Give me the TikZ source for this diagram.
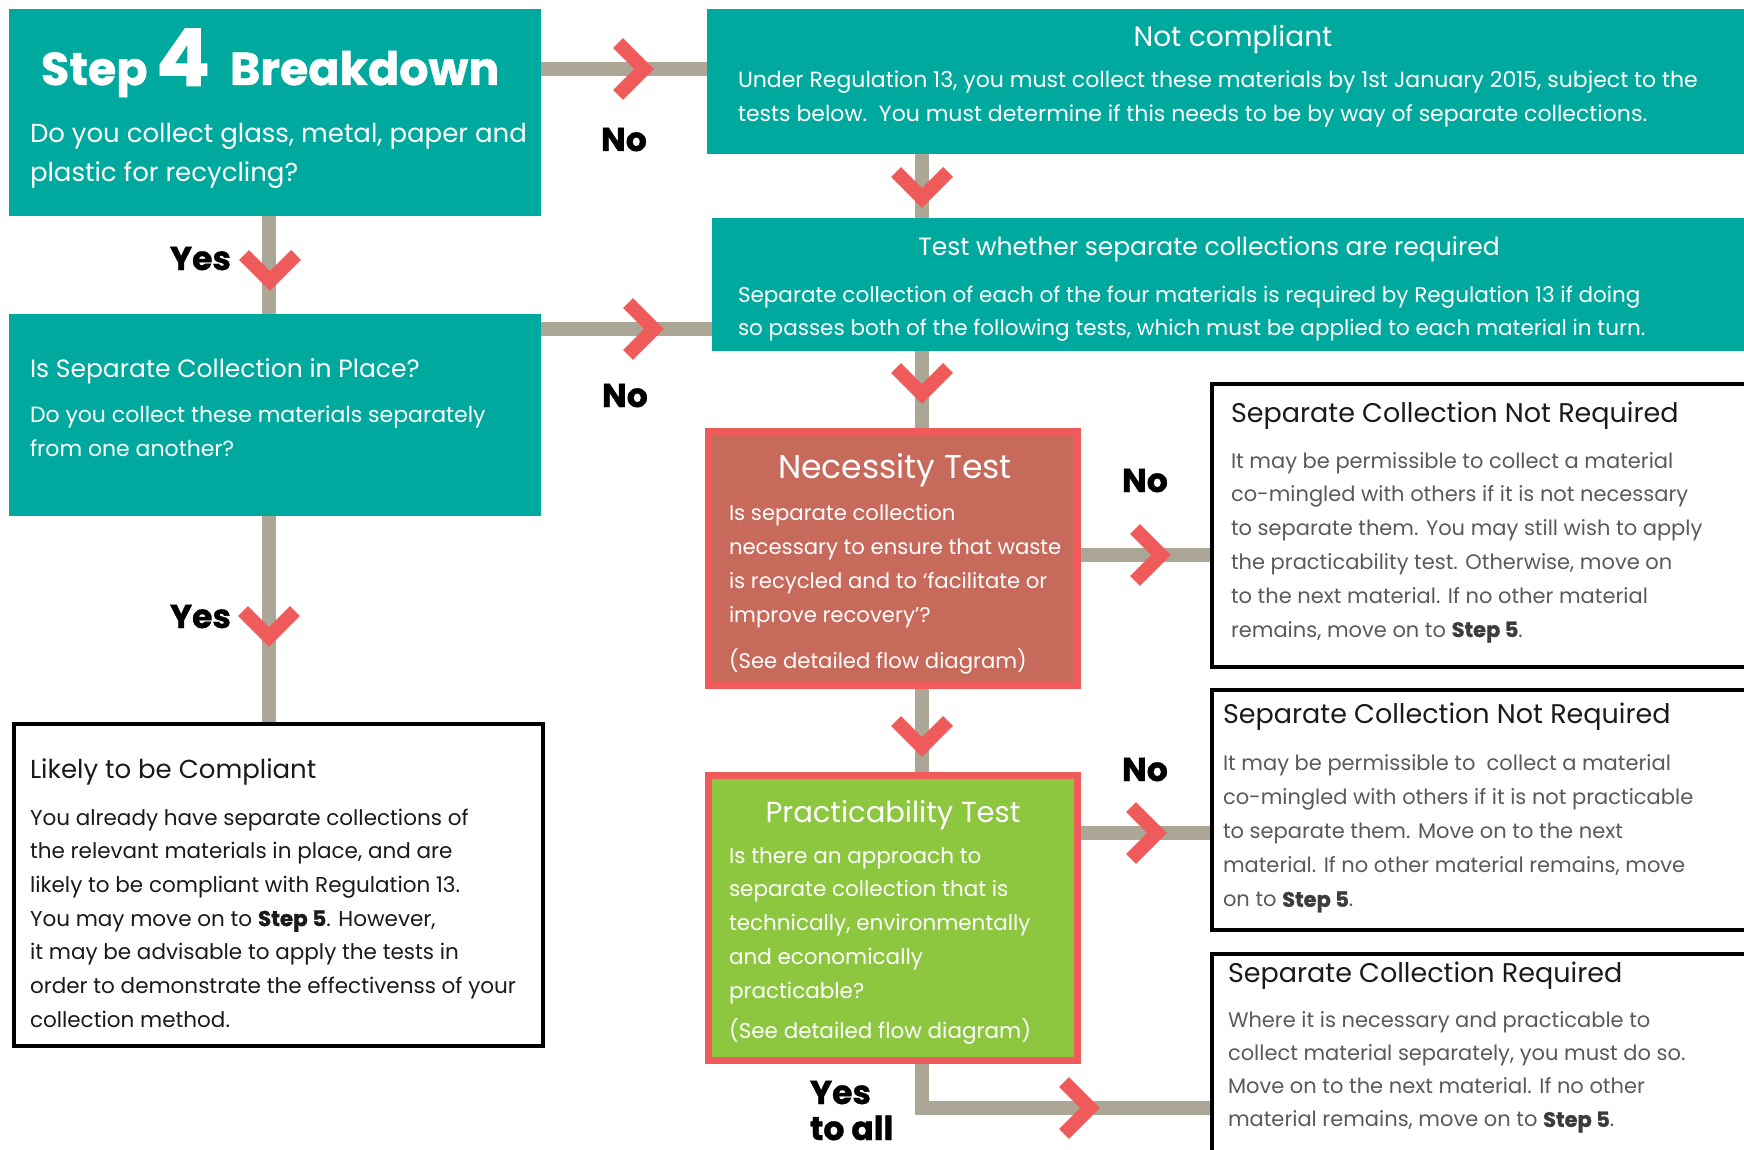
\documentclass[tikz,border=0pt]{standalone}
\usepackage{fontspec}
\setmainfont{Poppins}
\newfontfamily\heavyfont[BoldFeatures={FakeBold=1}]{Poppins}
\usetikzlibrary{calc}
\definecolor{teal1}{HTML}{00A99D}
\definecolor{conngray}{HTML}{ABA696}
\definecolor{chevred}{HTML}{EF5B5B}
\definecolor{necfill}{HTML}{C7695B}
\definecolor{pracfill}{HTML}{8DC63F}
\definecolor{bodygray}{HTML}{5A5A5A}
\definecolor{stepgray}{HTML}{3C3C3C}
\definecolor{titleblack}{HTML}{1A1A1A}
\newcommand{\fsz}[2]{\fontsize{#1pt}{#2pt}\selectfont}
\newcommand{\mylines}[1]{\begin{tabular}[t]{@{}l@{}}#1\end{tabular}}
\newcommand{\stepfiveg}{\textcolor{stepgray}{\heavyfont\bfseries Step 5}}
\newcommand{\stepfiveb}{{\heavyfont\bfseries Step 5}}
\pgfdeclarelayer{background}
\pgfsetlayers{background,main}
\begin{document}
\begin{tikzpicture}[x=1pt,y=-1pt,
  box/.style={anchor=north west, inner sep=0pt, outer sep=0pt},
  tealbox/.style={box, fill=teal1},
  whitebox/.style={box, draw=black, line width=3.5pt, fill=white},
  redbox/.style={box, draw=chevred, line width=7pt},
  connline/.style={draw=conngray, line width=14pt},
  chev/.style={draw=chevred, line width=14pt, line join=miter},
  txt/.style={inner sep=0pt, outer sep=0pt, anchor=base west},
  ctxt/.style={inner sep=0pt, outer sep=0pt, anchor=base},
  lbl/.style={txt, font=\heavyfont\bfseries\fsz{33}{36}, text=black},
  chevR/.pic={\draw[chev] (-26,-26) -- (0,0) -- (-26,26);},
  chevD/.pic={\draw[chev] (-26,-26) -- (0,0) -- (26,-26);}
]
\useasboundingbox (0,0) rectangle (1744,1150);
\clip (0,0) rectangle (1744,1150);

% ---------- boxes ----------
\node[tealbox, minimum width=532pt, minimum height=207pt] (step4) at (9,9) {};
\node[tealbox, minimum width=1037pt, minimum height=145pt] (nc) at (707,9) {};
\node[tealbox, minimum width=1032pt, minimum height=133pt] (test) at (712,218) {};
\node[tealbox, minimum width=532pt, minimum height=202pt] (issep) at (9,314) {};
\node[whitebox, minimum width=529pt, minimum height=322pt] (likely) at (14,724) {};
\node[redbox, fill=necfill, minimum width=369pt, minimum height=254pt] (nec) at (708.5,431.5) {};
\node[redbox, fill=pracfill, minimum width=369pt, minimum height=285pt] (prac) at (708.5,775.5) {};
\node[whitebox, minimum width=540pt, minimum height=283pt] (scnr1) at (1212,384) {};
\node[whitebox, minimum width=540pt, minimum height=240pt] (scnr2) at (1212,690) {};
\node[whitebox, minimum width=540pt, minimum height=220pt] (scr) at (1212,954) {};

% ---------- connectors ----------
\coordinate (c1) at ([yshift=-60pt]step4.north east);
\coordinate (c2) at ([xshift=260pt]step4.south west);
\coordinate (c3) at ([xshift=215pt]nc.south west);
\coordinate (c4) at ([yshift=-15pt]issep.north east);
\coordinate (c5) at ([xshift=260pt]issep.south west);
\coordinate (c6) at ([xshift=210pt]test.south west);
\coordinate (c7) at ([yshift=-123.5pt]nec.north east);
\coordinate (c8) at ([xshift=213.5pt]nec.south west);
\coordinate (c9) at ([yshift=-57.5pt]prac.north east);
\coordinate (c10) at ([xshift=213.5pt]prac.south west);
\coordinate (c11) at ([yshift=-154pt]scr.north west);
\begin{pgfonlayer}{background}
\draw[connline] (c1) -- (c1 -| nc.west);
\draw[connline] (c2) -- (c2 |- issep.north);
\draw[connline] (c3) -- (c3 |- test.north);
\draw[connline] (c4) -- (c4 -| test.west);
\draw[connline] (c5) -- (c5 |- likely.north);
\draw[connline] (c6) -- (c6 |- nec.north);
\draw[connline] (c7) -- (c7 -| scnr1.west);
\draw[connline] (c8) -- (c8 |- prac.north);
\draw[connline] (c9) -- (c9 -| scnr2.west);
\draw[connline] (c10) |- (c11);
\end{pgfonlayer}

% ---------- chevrons ----------
\pic at (644,69) {chevR};
\pic at (270,281) {chevD};
\pic at (922,198) {chevD};
\pic at (654,329) {chevR};
\pic at (269,637) {chevD};
\pic at (922,394) {chevD};
\pic at (1161,555) {chevR};
\pic at (922,747) {chevD};
\pic at (1157,833) {chevR};
\pic at (1090,1108) {chevR};

% ---------- labels ----------
\node[lbl] (no1) at (601,151) {No};
\node[lbl] (yes1) at (170,270) {Yes};
\node[lbl] (no2) at (602,407) {No};
\node[lbl] (yes2) at (170,628) {Yes};
\node[lbl] (no3) at (1122,492) {No};
\node[lbl] (no4) at (1122,781) {No};
\node[lbl] (yesall) at (810,1104) {\mylines{Yes\\to all}};

% ---------- texts ----------
\node[txt, font=\heavyfont\bfseries\fsz{46}{46}, text=white] (t4a) at (41,85) {Step};
\node[txt, font=\heavyfont\bfseries\fsz{80}{80}, text=white] (t4b) at (156,86) {4};
\node[txt, font=\heavyfont\bfseries\fsz{46}{46}, text=white] (t4c) at (230,85) {Breakdown};
\node[txt, font=\fsz{26}{39}, text=white] (step4body) at (30,143)
  {\mylines{Do you collect glass, metal, paper and\\plastic for recycling?}};

\node[ctxt, font=\fsz{28}{28}, text=white] (nctitle) at (1233,47) {Not compliant};
\node[txt, font=\fsz{22}{34}, text=white] (ncbody) at (738,88)
  {\mylines{Under Regulation 13, you must collect these materials by 1st January 2015, subject to the\\tests below.\ \ You must determine if this needs to be by way of separate collections.}};

\node[ctxt, font=\fsz{25}{25}, text=white] (testtitle) at (1209,255) {Test whether separate collections are required};
\node[txt, font=\fsz{21.5}{33}, text=white] (testbody) at (738,302)
  {\mylines{Separate collection of each of the four materials is required by Regulation 13 if doing\\so passes both of the following tests, which must be applied to each material in turn.}};

\node[txt, font=\fsz{25}{25}, text=white] (isseptitle) at (30,377) {Is Separate Collection in Place?};
\node[txt, font=\fsz{22}{34.5}, text=white] (issepbody) at (30,422)
  {\mylines{Do you collect these materials separately\\from one another?}};

\node[txt, font=\fsz{26}{26}, text=titleblack] (likelytitle) at (30,778) {Likely to be Compliant};
\node[txt, font=\fsz{21.5}{33.7}, text=titleblack] (likelybody) at (30,825)
  {\mylines{You already have separate collections of\\the relevant materials in place, and are\\likely to be compliant with Regulation 13.\\You may move on to \stepfiveb. However,\\it may be advisable to apply the tests in\\order to demonstrate the effectivenss of your\\collection method.}};

\node[ctxt, font=\fsz{33}{33}, text=white] (nectitle) at (895,478) {Necessity Test};
\node[txt, font=\fsz{21.2}{34}, text=white] (necbody) at (729,520)
  {\mylines{Is separate collection\\necessary to ensure that waste\\is recycled and to ‘facilitate or\\improve recovery’?\\[12pt](See detailed flow diagram)}};

\node[ctxt, font=\fsz{29}{29}, text=white] (practitle) at (893,822) {Practicability Test};
\node[txt, font=\fsz{21.5}{33.8}, text=white] (pracbody) at (729,863)
  {\mylines{Is there an approach to\\separate collection that is\\technically, environmentally\\and economically\\practicable?\\[6pt](See detailed flow diagram)}};

\node[txt, font=\fsz{27}{27}, text=titleblack] (scnr1title) at (1231,422) {Separate Collection Not Required};
\node[txt, font=\fsz{21}{33.8}, text=bodygray] (scnr1body) at (1231,468)
  {\mylines{It may be permissible to collect a material\\co-mingled with others if it is not necessary\\to separate them. You may still wish to apply\\the practicability test. Otherwise, move on\\to the next material. If no other material\\remains, move on to \stepfiveg.}};

\node[txt, font=\fsz{27}{27}, text=titleblack] (scnr2title) at (1223,723) {Separate Collection Not Required};
\node[txt, font=\fsz{21}{34.2}, text=bodygray] (scnr2body) at (1223,770)
  {\mylines{It may be permissible to\ \ collect a material\\co-mingled with others if it is not practicable\\to separate them. Move on to the next\\material. If no other material remains, move\\on to \stepfiveg.}};

\node[txt, font=\fsz{27}{27}, text=titleblack] (scrtitle) at (1228,982) {Separate Collection Required};
\node[txt, font=\fsz{21}{33.3}, text=bodygray] (scrbody) at (1228,1027)
  {\mylines{Where it is necessary and practicable to\\collect material separately, you must do so.\\Move on to the next material. If no other\\material remains, move on to \stepfiveg.}};
\end{tikzpicture}
\end{document}
